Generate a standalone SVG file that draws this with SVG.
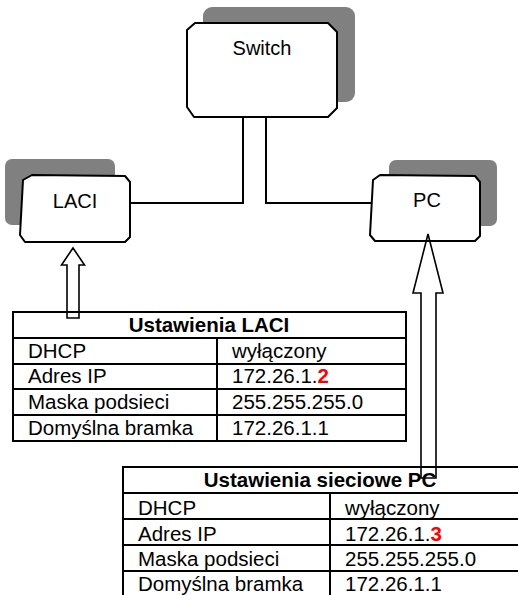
<svg xmlns="http://www.w3.org/2000/svg" width="518" height="595" viewBox="0 0 518 595">
  <style>
    .shadow { fill: #808080; stroke: none; }
    .box { fill: #ffffff; stroke: #000000; stroke-width: 2; stroke-linejoin: round; }
    .lbl { font-family: "Liberation Sans", Arial, sans-serif; font-size: 20px; fill: #000000; }
    .conn { fill: none; stroke: #000000; stroke-width: 2; }
    .arrow { fill: none; stroke: #000000; stroke-width: 1.6; stroke-linejoin: miter; }
    .tbl { fill: #ffffff; stroke: #000000; stroke-width: 2; }
    .tline { stroke: #000000; stroke-width: 2; }
    .cell { font-family: "Liberation Sans", Arial, sans-serif; font-size: 20.5px; fill: #000000; }
    .head { font-family: "Liberation Sans", Arial, sans-serif; font-size: 20.5px; font-weight: bold; fill: #000000; }
    .red { fill: #ff0000; font-weight: bold; }
  </style>
  <rect width="518" height="595" fill="#ffffff"/>

  <g id="switch">
    <rect class="shadow" x="203" y="7" width="152" height="95" rx="9"/>
    <polygon class="box" points="195,23 328,23 337,32 337,108 328,117 194,117 187,107 187,30"/>
    <text class="lbl" x="262" y="55" text-anchor="middle">Switch</text>
  </g>

  <g id="laci">
    <rect class="shadow" x="5" y="159" width="110" height="66" rx="7"/>
    <polygon class="box" points="32,175 125,176 130,182 130,237 125,242 25,242 20,235 23,180"/>
    <text class="lbl" x="75" y="208" text-anchor="middle">LACI</text>
  </g>

  <g id="pc">
    <rect class="shadow" x="389" y="160" width="108" height="66" rx="7"/>
    <polygon class="box" points="380,175 475,176 480,182 480,236 475,241 375,241 370,235 373,180"/>
    <text class="lbl" x="427" y="207" text-anchor="middle">PC</text>
  </g>

  <g id="connectors">
    <polyline class="conn" points="243,117 243,203 130,203"/>
    <polyline class="conn" points="266,117 266,203 371,203"/>
  </g>

  <g id="table-laci">
    <rect class="tbl" x="13" y="312" width="393" height="129"/>
    <line class="tline" x1="13" y1="338" x2="406" y2="338"/>
    <line class="tline" x1="13" y1="364" x2="406" y2="364"/>
    <line class="tline" x1="13" y1="389" x2="406" y2="389"/>
    <line class="tline" x1="13" y1="415" x2="406" y2="415"/>
    <line class="tline" x1="217" y1="338" x2="217" y2="441"/>
    <text class="head" x="209" y="332" text-anchor="middle">Ustawienia LACI</text>
    <text class="cell" x="28" y="358">DHCP</text>
    <text class="cell" x="232" y="358">wyłączony</text>
    <text class="cell" x="28" y="383">Adres IP</text>
    <text class="cell" x="232" y="383">172.26.1.<tspan class="red">2</tspan></text>
    <text class="cell" x="28" y="409">Maska podsieci</text>
    <text class="cell" x="232" y="409">255.255.255.0</text>
    <text class="cell" x="28" y="435">Domyślna bramka</text>
    <text class="cell" x="232" y="435">172.26.1.1</text>
  </g>

  <g id="table-pc">
    <rect class="tbl" x="123" y="467" width="400" height="132"/>
    <line class="tline" x1="123" y1="493" x2="523" y2="493"/>
    <line class="tline" x1="123" y1="519" x2="523" y2="519"/>
    <line class="tline" x1="123" y1="545" x2="523" y2="545"/>
    <line class="tline" x1="123" y1="571" x2="523" y2="571"/>
    <line class="tline" x1="330" y1="493" x2="330" y2="599"/>
    <text class="head" x="320" y="487" text-anchor="middle">Ustawienia sieciowe PC</text>
    <text class="cell" x="138" y="515">DHCP</text>
    <text class="cell" x="345" y="515">wyłączony</text>
    <text class="cell" x="138" y="541">Adres IP</text>
    <text class="cell" x="345" y="541">172.26.1.<tspan class="red">3</tspan></text>
    <text class="cell" x="138" y="566">Maska podsieci</text>
    <text class="cell" x="345" y="566">255.255.255.0</text>
    <text class="cell" x="138" y="591">Domyślna bramka</text>
    <text class="cell" x="345" y="591">172.26.1.1</text>
  </g>

  <g id="arrows">
    <path class="arrow" d="M73,248 L84.5,265 L79,265 L79,318 L67,318 L67,265 L61.5,265 Z"/>
    <path class="arrow" d="M428,234 L443,293 L436,293 L436,478 L421,478 L421,293 L413,293 Z"/>
  </g>
</svg>
